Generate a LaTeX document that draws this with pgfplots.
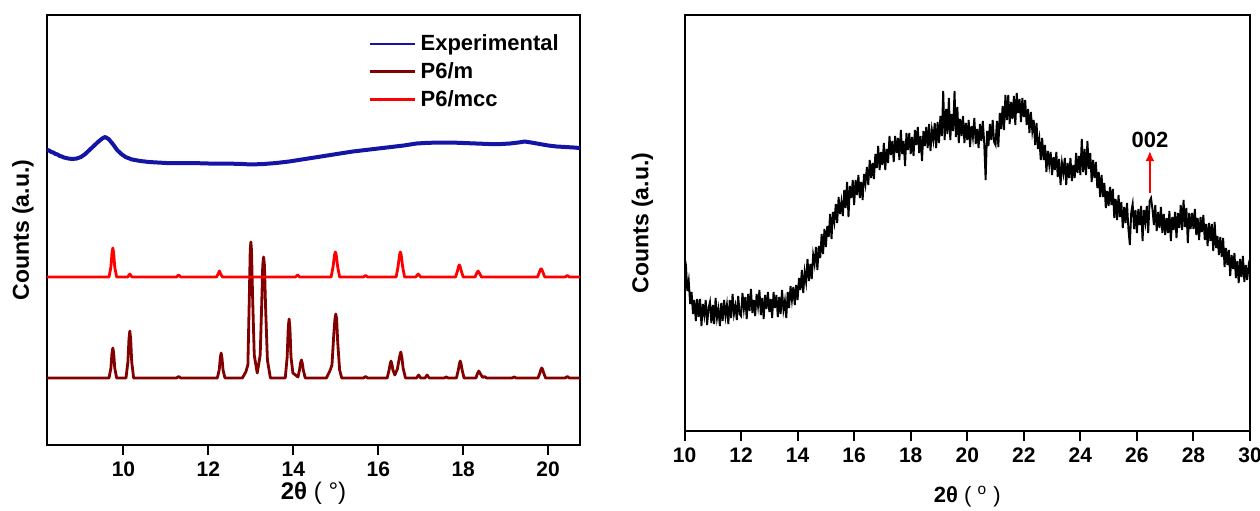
\documentclass[border=0pt]{standalone}
\usepackage{pgfplots}
\pgfplotsset{compat=1.18}
\usetikzlibrary{arrows.meta}
\usepackage{fontspec}
\setmainfont{Liberation Sans}
\definecolor{expblue}{RGB}{20,20,165}
\definecolor{darkred}{RGB}{130,0,0}
\definecolor{brightred}{RGB}{255,0,0}
\begin{document}
\begin{tikzpicture}
\useasboundingbox (0,0) rectangle (630pt,255pt);
\begin{axis}[
  at={(23.5pt,32.5pt)}, anchor=south west, scale only axis,
  width=266.5pt, height=215pt,
  xmin=8.2, xmax=20.75, ymin=0, ymax=430,
  ytick=\empty, xtick={10,12,...,20},
  tick align=outside, xtick pos=bottom, major tick length=5pt,
  axis line style={line width=1pt},
  every tick/.style={line width=1pt, black},
  ticklabel style={font=\fontsize{10.5}{12}\selectfont\bfseries},
  /pgf/number format/assume math mode=true,
  every axis x label/.style={at={([yshift=-24pt]axis description cs:0.5,0)}, anchor=center},
  every axis y label/.style={at={([xshift=-12pt]axis description cs:0,0.5)}, anchor=center, rotate=90},
  xlabel={\fontsize{12}{14}\selectfont\bfseries 2θ {\mdseries ( °)}},
  ylabel={\fontsize{11.5}{13}\selectfont\bfseries Counts (a.u.)},
  legend style={at={(0.602,0.965)}, anchor=north west, draw=none, fill=none,
    font=\fontsize{11}{13}\selectfont\bfseries, row sep=0.5pt, inner sep=0pt},
  legend cell align=left,
  legend image code/.code={\draw[#1, line width=1.4pt] (0cm,0cm) -- (0.8cm,0cm);},
]
\addplot[expblue, line width=2pt, line join=round] coordinates {
(8.2,295)(8.25,294.5)(8.3,293)(8.35,292.5)(8.4,291)(8.45,290.5)(8.5,289)(8.55,288.5)(8.6,287.5)(8.7,286.5)(8.8,286)(8.9,286.5)(9.0,288)(9.1,291)(9.2,295)(9.3,299)(9.4,303)(9.5,306.5)(9.57,308)(9.65,306)(9.75,301)(9.85,295)(9.95,291)(10.05,288)(10.2,285.5)(10.4,284)(10.6,283)(10.8,282.5)(11.0,282)(11.3,282)(11.6,282)(12.0,281.5)(12.4,281.5)(12.8,281)(13.0,280.5)(13.3,281)(13.6,282)(13.9,283.5)(14.2,285.5)(14.5,287.5)(14.8,289.5)(15.1,291.5)(15.4,293.5)(15.7,295)(16.0,296.5)(16.3,298)(16.6,299.5)(16.9,301.5)(17.1,302)(17.4,302.5)(17.7,302.5)(18.0,302)(18.3,301.5)(18.6,301)(18.9,301)(19.1,301.5)(19.3,302.5)(19.45,303.5)(19.6,302.5)(19.8,301)(20.0,299.5)(20.2,298.5)(20.4,298)(20.6,297.5)(20.75,297)};
\addlegendentry{Experimental}
\addplot[darkred, line width=1.4pt, line join=round] coordinates {
(8.2,67)(9.66,67)(9.705,77)(9.73,92)(9.75,97)(9.77,92)(9.795,77)(9.84,67)
(10.06,67)(10.105,83)(10.13,106)(10.15,114)(10.17,106)(10.195,83)(10.24,67)
(11.25,67)(11.3,68.5)(11.35,67)
(12.21,67)(12.255,75)(12.28,87)(12.3,92)(12.32,87)(12.345,75)(12.39,67)
(12.8,67)(12.88,73)(12.93,80)(12.965,150)(12.985,195)(13.0,203)(13.015,195)(13.04,150)(13.08,90)(13.15,72)(13.22,90)(13.255,140)(13.28,180)(13.3,188)(13.32,180)(13.345,140)(13.39,85)(13.46,67)
(13.81,67)(13.855,88)(13.88,117)(13.9,126)(13.92,117)(13.945,88)(13.99,72)(14.11,68)(14.145,75)(14.17,82)(14.19,85)(14.21,82)(14.235,75)(14.28,67)
(14.78,67)(14.86,74)(14.91,80)(14.955,112)(14.98,126)(15.0,131)(15.02,126)(15.045,103)(15.09,75)(15.14,67)
(15.65,67)(15.7,68.5)(15.75,67)
(16.21,67)(16.255,75)(16.28,81)(16.3,84)(16.32,81)(16.345,75)(16.39,70)(16.45,76)(16.5,88)(16.53,93)(16.555,88)(16.585,77)(16.64,67)
(16.9,67)(16.95,70)(17.0,67)(17.1,67)(17.15,70)(17.2,67)
(17.55,67)(17.6,68)(17.65,67)
(17.84,67)(17.885,75)(17.91,81)(17.93,84)(17.95,81)(17.975,75)(18.02,67)
(18.3,67)(18.34,72)(18.37,74)(18.4,71.5)(18.46,67.5)(18.5,68.5)(18.55,67)
(19.15,67)(19.2,68)(19.25,67)
(19.76,67)(19.805,72)(19.83,75.5)(19.85,77)(19.87,75.5)(19.895,72)(19.94,67)
(20.4,67)(20.45,68.5)(20.5,67)(20.75,67)};
\addlegendentry{P6/m}
\addplot[brightred, line width=1.4pt, line join=round] coordinates {
(8.2,168)(9.66,168)(9.705,178)(9.73,192)(9.75,197)(9.77,192)(9.795,178)(9.84,168)
(10.1,168)(10.15,171)(10.2,168)
(11.25,168)(11.3,170)(11.35,168)
(12.19,168)(12.23,171)(12.26,174)(12.29,171)(12.33,168)
(14.05,168)(14.1,170)(14.15,168)
(14.89,168)(14.935,178)(14.97,190)(14.99,193)(15.01,190)(15.045,178)(15.09,168)
(15.65,168)(15.7,169.5)(15.75,168)
(16.42,168)(16.465,178)(16.5,190)(16.52,193)(16.54,190)(16.575,178)(16.62,168)
(16.88,168)(16.94,171)(17.0,168)
(17.82,168)(17.865,174)(17.895,179)(17.91,180)(17.925,179)(17.955,174)(18.0,168)
(18.28,168)(18.32,172)(18.35,174)(18.38,172)(18.43,168)
(19.75,168)(19.795,173)(19.825,176)(19.845,176)(19.875,173)(19.92,168)
(20.4,168)(20.45,169.5)(20.5,168)(20.75,168)};
\addlegendentry{P6/mcc}
\end{axis}
\begin{axis}[
  at={(342.25pt,39.5pt)}, anchor=south west, scale only axis,
  width=282.75pt, height=208pt,
  xmin=10, xmax=30, ymin=0, ymax=416,
  ytick=\empty, xtick={10,12,...,30},
  tick align=outside, xtick pos=bottom, major tick length=5pt,
  axis line style={line width=1pt},
  every tick/.style={line width=1pt, black},
  ticklabel style={font=\fontsize{10.5}{12}\selectfont\bfseries},
  /pgf/number format/assume math mode=true,
  every axis x label/.style={at={([yshift=-33pt]axis description cs:0.5,0)}, anchor=center},
  every axis y label/.style={at={([xshift=-21pt]axis description cs:0,0.5)}, anchor=center, rotate=90},
  xlabel={\fontsize{11}{13}\selectfont\bfseries 2θ {\mdseries ( \textsuperscript{o} )}},
  ylabel={\fontsize{11.5}{13}\selectfont\bfseries Counts (a.u.)},
]
\addplot[black, line width=0.95pt] coordinates {
(10.00,174)(10.05,166)(10.10,140)(10.15,150)(10.20,127)(10.25,139)(10.30,117)(10.35,131)(10.40,110)(10.45,132)(10.50,114)(10.55,132)(10.60,105)(10.65,127)(10.70,116)(10.75,131)(10.80,106)(10.85,123)(10.90,129)(10.95,108)
(11.00,126)(11.05,107)(11.10,133)(11.15,113)(11.20,122)(11.25,105)(11.30,128)(11.35,110)(11.40,131)(11.45,115)(11.50,126)(11.55,107)(11.60,131)(11.65,113)(11.70,137)(11.75,117)(11.80,125)(11.85,111)(11.90,135)(11.95,117)
(12.00,115)(12.05,138)(12.10,122)(12.15,134)(12.20,112)(12.25,137)(12.30,120)(12.35,142)(12.40,118)(12.45,131)(12.50,115)(12.55,137)(12.60,125)(12.65,141)(12.70,116)(12.75,133)(12.80,112)(12.85,136)(12.90,122)(12.95,139)
(13.00,119)(13.05,132)(13.10,113)(13.15,139)(13.20,123)(13.25,136)(13.30,114)(13.35,134)(13.40,117)(13.45,141)(13.50,121)(13.55,130)(13.60,113)(13.65,139)(13.70,123)(13.75,145)(13.80,131)(13.85,144)(13.90,126)(13.95,146)
(14.00,131)(14.05,153)(14.10,141)(14.15,161)(14.20,138)(14.25,159)(14.30,149)(14.35,172)(14.40,150)(14.45,167)(14.50,152)(14.55,176)(14.60,167)(14.65,184)(14.70,161)(14.75,185)(14.80,173)(14.85,197)(14.90,177)(14.95,202)
(15.00,184)(15.05,205)(15.10,194)(15.15,217)(15.20,192)(15.25,219)(15.30,209)(15.35,227)(15.40,208)(15.45,234)(15.50,217)(15.55,229)(15.60,215)(15.65,241)(15.70,223)(15.75,249)(15.80,214)(15.85,245)(15.90,233)(15.95,251)
(16.00,226)(16.05,251)(16.10,236)(16.15,256)(16.20,233)(16.25,249)(16.30,231)(16.35,257)(16.40,247)(16.45,264)(16.50,246)(16.55,271)(16.60,253)(16.65,268)(16.70,252)(16.75,277)(16.80,263)(16.85,285)(16.90,261)(16.95,279)
(17.00,266)(17.05,288)(17.10,261)(17.15,282)(17.20,268)(17.25,295)(17.30,276)(17.35,290)(17.40,269)(17.45,295)(17.50,278)(17.55,293)(17.60,271)(17.65,301)(17.70,277)(17.75,290)(17.80,265)(17.85,298)(17.90,281)(17.95,298)
(18.00,277)(18.05,294)(18.10,275)(18.15,301)(18.20,286)(18.25,304)(18.30,278)(18.35,295)(18.40,270)(18.45,300)(18.50,285)(18.55,304)(18.60,283)(18.65,307)(18.70,280)(18.75,301)(18.80,291)(18.85,308)(18.90,283)(18.95,309)
(19.00,288)(19.05,315)(19.10,295)(19.15,340)(19.20,291)(19.25,322)(19.30,297)(19.35,333)(19.40,291)(19.45,317)(19.50,300)(19.55,340)(19.60,294)(19.65,324)(19.70,288)(19.75,312)(19.80,295)(19.85,315)(19.90,288)(19.95,308)
(20.00,291)(20.05,311)(20.10,284)(20.15,305)(20.20,294)(20.25,313)(20.30,287)(20.35,302)(20.40,283)(20.45,307)(20.50,290)(20.55,310)(20.60,288)(20.65,251)(20.70,300)(20.75,285)(20.80,307)(20.85,291)(20.90,311)(20.95,289)
(21.00,286)(21.05,310)(21.10,284)(21.15,318)(21.20,302)(21.25,325)(21.30,301)(21.35,336)(21.40,311)(21.45,336)(21.50,307)(21.55,329)(21.60,312)(21.65,335)(21.70,306)(21.75,338)(21.80,318)(21.85,332)(21.90,309)(21.95,333)
(22.00,314)(22.05,331)(22.10,306)(22.15,322)(22.20,298)(22.25,319)(22.30,300)(22.35,311)(22.40,286)(22.45,308)(22.50,282)(22.55,292)(22.60,271)(22.65,293)(22.70,271)(22.75,286)(22.80,259)(22.85,280)(22.90,266)(22.95,279)
(23.00,256)(23.05,274)(23.10,261)(23.15,279)(23.20,254)(23.25,272)(23.30,246)(23.35,268)(23.40,258)(23.45,273)(23.50,246)(23.55,268)(23.60,253)(23.65,273)(23.70,250)(23.75,266)(23.80,253)(23.85,278)(23.90,258)(23.95,275)
(24.00,256)(24.05,292)(24.10,259)(24.15,282)(24.20,256)(24.25,290)(24.30,262)(24.35,278)(24.40,249)(24.45,271)(24.50,253)(24.55,269)(24.60,243)(24.65,259)(24.70,234)(24.75,256)(24.80,234)(24.85,248)(24.90,223)(24.95,240)
(25.00,225)(25.05,244)(25.10,226)(25.15,242)(25.20,213)(25.25,232)(25.30,211)(25.35,236)(25.40,214)(25.45,229)(25.50,203)(25.55,224)(25.60,208)(25.65,228)(25.70,202)(25.75,186)(25.80,219)(25.85,227)(25.90,202)(25.95,221)
(26.00,198)(26.05,222)(26.10,206)(26.15,225)(26.20,190)(26.25,221)(26.30,209)(26.35,225)(26.40,198)(26.45,230)(26.50,233)(26.55,222)(26.60,206)(26.65,226)(26.70,200)(26.75,219)(26.80,203)(26.85,224)(26.90,198)(26.95,217)
(27.00,196)(27.05,213)(27.10,198)(27.15,220)(27.20,190)(27.25,214)(27.30,201)(27.35,219)(27.40,193)(27.45,218)(27.50,203)(27.55,226)(27.60,201)(27.65,231)(27.70,204)(27.75,223)(27.80,188)(27.85,218)(27.90,202)(27.95,218)
(28.00,202)(28.05,222)(28.10,196)(28.15,213)(28.20,191)(28.25,214)(28.30,199)(28.35,216)(28.40,191)(28.45,207)(28.50,185)(28.55,208)(28.60,190)(28.65,207)(28.70,180)(28.75,209)(28.80,183)(28.85,195)(28.90,176)(28.95,194)
(29.00,174)(29.05,193)(29.10,164)(29.15,183)(29.20,166)(29.25,181)(29.30,155)(29.35,176)(29.40,162)(29.45,178)(29.50,153)(29.55,170)(29.60,148)(29.65,172)(29.70,154)(29.75,175)(29.80,149)(29.85,166)(29.90,151)(29.95,165)
(30.00,158)};
\draw[-{Latex[length=5pt,width=4.5pt]}, brightred, line width=1pt] (axis cs:26.46,238) -- (axis cs:26.46,280);
\node[font=\fontsize{11}{13}\selectfont\bfseries] at (axis cs:26.46,291) {002};
\end{axis}
\end{tikzpicture}
\end{document}
